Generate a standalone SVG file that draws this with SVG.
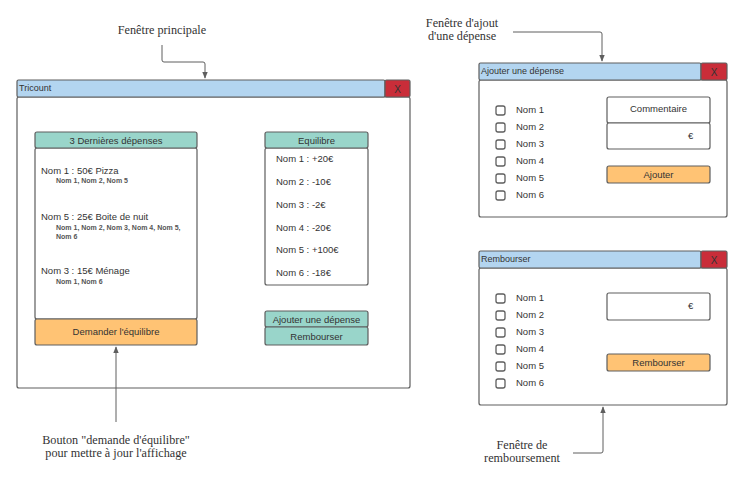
<svg xmlns="http://www.w3.org/2000/svg" width="744" height="493" viewBox="0 0 744 493">
<defs>
<style>
.bar{fill:#b3d5f0;stroke:#5e5e5e;stroke-width:1.2}
.x{fill:#c92d39;stroke:#5e5e5e;stroke-width:1.2}
.body{fill:#fff;stroke:#5e5e5e;stroke-width:1.2}
.teal{fill:#99d5ca;stroke:#5e5e5e;stroke-width:1.2}
.orange{fill:#ffc374;stroke:#5e5e5e;stroke-width:1.2}
.box{fill:#fff;stroke:#5e5e5e;stroke-width:1.2}
.cb{fill:#fff;stroke:#5e5e5e;stroke-width:1.3}
text{font-family:"Liberation Sans",Arial,sans-serif;fill:#333;font-size:9.5px}
.sm{font-size:7px;font-weight:bold;fill:#555}
.t{font-size:9px}
.xt{font-size:10px;fill:#333;text-anchor:middle}
.c{text-anchor:middle}
.lbl{font-family:"Liberation Serif","Times New Roman",serif;font-size:12.2px;fill:#333;text-anchor:middle}
.con{fill:none;stroke:#5e5e5e;stroke-width:1}
</style>
<marker id="ah" viewBox="0 0 10 10" refX="9" refY="5" markerWidth="7" markerHeight="7" orient="auto" markerUnits="userSpaceOnUse">
<path d="M0,1 L10,5 L0,9 z" fill="#5e5e5e"/>
</marker>
</defs>
<rect width="744" height="493" fill="#fff"/>

<g id="main-window">
<rect class="body" x="17" y="97" width="393" height="291" rx="2"/>
<rect class="bar" x="17" y="80" width="368" height="17" rx="1.5"/>
<rect class="x" x="385" y="80" width="25" height="17" rx="1.5"/>
<text class="t" x="19" y="91">Tricount</text>
<text class="xt" x="397.5" y="92.5">X</text>
</g>

<g id="dernieres-depenses">
<rect class="box" x="35" y="148" width="162" height="171" rx="2"/>
<rect class="teal" x="35" y="132" width="162" height="16" rx="2"/>
<text class="c" x="116" y="144">3 Dernières dépenses</text>
<text x="41" y="174">Nom 1 :  50€ Pizza</text>
<text class="sm" x="56" y="183">Nom 1, Nom 2, Nom 5</text>
<text x="41" y="220">Nom 5 :  25€ Boite de nuit</text>
<text class="sm" x="56" y="230">Nom 1, Nom 2, Nom 3, Nom 4, Nom 5,</text>
<text class="sm" x="56" y="239">Nom 6</text>
<text x="41" y="274">Nom 3 :  15€ Ménage</text>
<text class="sm" x="56" y="284">Nom 1, Nom 6</text>
</g>

<g id="btn-demander">
<rect class="orange" x="35" y="319" width="162" height="26" rx="2"/>
<text class="c" x="116" y="335">Demander l'équilibre</text>
</g>

<g id="equilibre">
<rect class="box" x="265" y="148" width="103" height="137" rx="2"/>
<rect class="teal" x="265" y="132" width="103" height="16" rx="2"/>
<text class="c" x="316.5" y="144">Equilibre</text>
<text x="276" y="162">Nom 1 :  +20€</text>
<text x="276" y="185">Nom 2 :  -10€</text>
<text x="276" y="208">Nom 3 :  -2€</text>
<text x="276" y="231">Nom 4 :  -20€</text>
<text x="276" y="253">Nom 5 :  +100€</text>
<text x="276" y="276">Nom 6 :  -18€</text>
</g>

<g id="btn-ajouter-depense">
<rect class="teal" x="265" y="311" width="103" height="16" rx="2"/>
<text class="c" x="316.5" y="323">Ajouter une dépense</text>
</g>
<g id="btn-rembourser">
<rect class="teal" x="265" y="327" width="103" height="18" rx="2"/>
<text class="c" x="316.5" y="340">Rembourser</text>
</g>

<g id="ajout-window">
<rect class="body" x="479" y="80" width="248" height="137" rx="2"/>
<rect class="bar" x="479" y="63" width="222" height="17" rx="1.5"/>
<rect class="x" x="701" y="63" width="26" height="17" rx="1.5"/>
<text class="t" x="481" y="74">Ajouter une dépense</text>
<text class="xt" x="714" y="75.5">X</text>
<rect class="cb" x="496" y="106" width="9" height="9" rx="2"/>
<rect class="cb" x="496" y="123" width="9" height="9" rx="2"/>
<rect class="cb" x="496" y="140" width="9" height="9" rx="2"/>
<rect class="cb" x="496" y="157" width="9" height="9" rx="2"/>
<rect class="cb" x="496" y="174" width="9" height="9" rx="2"/>
<rect class="cb" x="496" y="191" width="9" height="9" rx="2"/>
<text x="516" y="113">Nom 1</text>
<text x="516" y="130">Nom 2</text>
<text x="516" y="147">Nom 3</text>
<text x="516" y="164">Nom 4</text>
<text x="516" y="181">Nom 5</text>
<text x="516" y="198">Nom 6</text>
<rect class="box" x="607" y="97" width="103" height="26" rx="2"/>
<text class="c" x="658.5" y="112">Commentaire</text>
<rect class="box" x="607" y="123" width="103" height="26" rx="2"/>
<text x="688" y="139">€</text>
<rect class="orange" x="607" y="166" width="103" height="17" rx="2"/>
<text class="c" x="658.5" y="177.5">Ajouter</text>
</g>

<g id="rembourser-window">
<rect class="body" x="479" y="268" width="248" height="137" rx="2"/>
<rect class="bar" x="479" y="251" width="222" height="17" rx="1.5"/>
<rect class="x" x="701" y="251" width="26" height="17" rx="1.5"/>
<text class="t" x="481" y="262">Rembourser</text>
<text class="xt" x="714" y="263.5">X</text>
<rect class="cb" x="496" y="294" width="9" height="9" rx="2"/>
<rect class="cb" x="496" y="311" width="9" height="9" rx="2"/>
<rect class="cb" x="496" y="328" width="9" height="9" rx="2"/>
<rect class="cb" x="496" y="345" width="9" height="9" rx="2"/>
<rect class="cb" x="496" y="362" width="9" height="9" rx="2"/>
<rect class="cb" x="496" y="379" width="9" height="9" rx="2"/>
<text x="516" y="301">Nom 1</text>
<text x="516" y="318">Nom 2</text>
<text x="516" y="335">Nom 3</text>
<text x="516" y="352">Nom 4</text>
<text x="516" y="369">Nom 5</text>
<text x="516" y="386">Nom 6</text>
<rect class="box" x="607" y="293" width="103" height="27" rx="2"/>
<text x="688" y="309">€</text>
<rect class="orange" x="607" y="354" width="103" height="17" rx="2"/>
<text class="c" x="658.5" y="365.5">Rembourser</text>
</g>

<g id="label-principale">
<text class="lbl" x="162" y="34">Fenêtre principale</text>
</g>
<g id="label-ajout">
<text class="lbl" x="462" y="27">Fenêtre d'ajout</text>
<text class="lbl" x="462" y="40">d'une dépense</text>
</g>
<g id="label-bouton">
<text class="lbl" x="116" y="444">Bouton "demande d'équilibre"</text>
<text class="lbl" x="116" y="457">pour mettre à jour l'affichage</text>
</g>
<g id="label-remboursement">
<text class="lbl" x="522" y="449">Fenêtre de</text>
<text class="lbl" x="522" y="462">remboursement</text>
</g>

<g id="connectors">
<path class="con" d="M162,45 V60 Q162,62 164,62 H203 Q205,62 205,64 V78" marker-end="url(#ah)"/>
<path class="con" d="M513,32 H600 Q602,32 602,34 V61" marker-end="url(#ah)"/>
<path class="con" d="M116,422 V347" marker-end="url(#ah)"/>
<path class="con" d="M573,453 H601 Q603,453 603,451 V407" marker-end="url(#ah)"/>
</g>
</svg>
